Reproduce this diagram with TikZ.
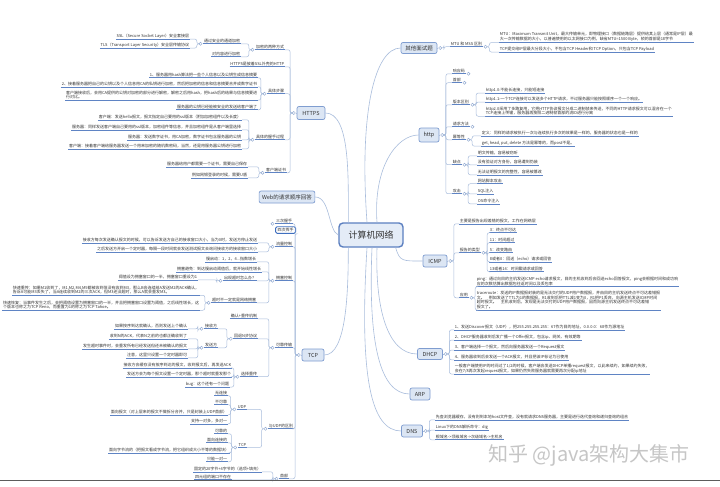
\documentclass[tikz,border=0pt]{standalone}
\usepackage{fontspec}
\setmainfont{Noto Sans CJK SC}
\usetikzlibrary{calc}
\definecolor{txt}{HTML}{333333}
\definecolor{ucol}{HTML}{5F84C4}
\definecolor{ccol}{HTML}{A9BDDC}
\definecolor{kcol}{HTML}{8FA8D0}
\definecolor{boxfill}{HTML}{DCE6F4}
\definecolor{boxdraw}{HTML}{7F9DD0}
\definecolor{cfill}{HTML}{E4ECF7}
\definecolor{cdraw}{HTML}{5B7FC0}
\definecolor{selcol}{HTML}{3F6FBF}
\definecolor{wm}{HTML}{C6C6C6}
\definecolor{barcol}{HTML}{5C5C5C}
\tikzset{
  ulinestyle/.style={draw=ucol, line width=0.55pt},
  leaf/.style={font=\fontsize{4}{4.9}\selectfont, text=txt, inner sep=0.7pt, align=left,
     append after command={(\tikzlastnode.south west) edge[ulinestyle] (\tikzlastnode.south east)}},
  lleaf/.style={leaf, anchor=east},
  rleaf/.style={leaf, anchor=west},
  mbox/.style={draw=boxdraw, fill=boxfill, rounded corners=2pt, line width=0.7pt,
     font=\fontsize{5.5}{6}\selectfont, text=txt, inner xsep=3pt, inner ysep=2pt},
  cbox/.style={draw=cdraw, fill=cfill, rounded corners=4pt, line width=1.4pt,
     font=\fontsize{9}{10}\selectfont, text=txt, minimum width=64pt, minimum height=24pt},
  selbox/.style={draw=selcol, fill=white, rounded corners=1.5pt, line width=0.8pt,
     font=\fontsize{4}{4.9}\selectfont, text=txt, inner xsep=2pt, inner ysep=1.5pt, anchor=east},
  link/.style={draw=ccol, line width=0.5pt, rounded corners=2pt},
  mainlink/.style={draw=ccol, line width=0.6pt},
  knob/.style={draw=kcol, fill=white, circle, inner sep=0pt, minimum size=3.2pt, line width=0.4pt},
}
\newcommand\LJ[1]{\node[knob] (#1j) at ([xshift=-2.6pt]#1.south west) {};}
\newcommand\RJ[1]{\node[knob] (#1j) at ([xshift=2.6pt]#1.south east) {};}
\newcommand\LBJ[1]{\node[knob] (#1j) at ([xshift=-2.8pt]#1.west) {};}
\newcommand\RBJ[1]{\node[knob] (#1j) at ([xshift=2.8pt]#1.east) {};}
\newcommand\LL[2]{\draw[link] (#1j.west) -- ++(-2,0) |- (#2.south east);}
\newcommand\RL[2]{\draw[link] (#1j.east) -- ++(2,0) |- (#2.south west);}
\begin{document}
\begin{tikzpicture}[x=1pt,y=-1pt]
\fill[white] (0,0) rectangle (720,487);
\useasboundingbox (0,0) rectangle (720,487);

% ---------- centre ----------
\node[cbox] (center) at (371,235) {计算机网络};

% ---------- main boxes ----------
\node[mbox, minimum width=28pt, minimum height=13pt] (https) at (311,113) {HTTPS};
\node[mbox, minimum width=55pt, minimum height=12pt] (web) at (287,197) {Web的请求顺序回答};
\node[mbox, minimum width=22pt, minimum height=12pt] (tcp) at (313,355) {TCP};
\node[mbox, minimum width=36pt, minimum height=11pt] (other) at (419,48) {其他面试题};
\node[mbox, minimum width=20pt, minimum height=14pt] (http) at (429,135) {http};
\node[mbox, minimum width=24pt, minimum height=12pt] (icmp) at (435,261) {ICMP};
\node[mbox, minimum width=25pt, minimum height=11pt] (dhcp) at (430,354) {DHCP};
\node[mbox, minimum width=20pt, minimum height=12pt] (arp) at (420,394) {ARP};
\node[mbox, minimum width=21pt, minimum height=12pt] (dns) at (412,431) {DNS};

% ---------- main links ----------
\draw[mainlink] (https.east) .. controls +(25,0) and +(0,-45) .. ([xshift=10pt]center.north west);
\draw[mainlink] (web.east) .. controls +(15,0) and +(-10,-4) .. (center.west);
\draw[mainlink] (tcp.east) .. controls +(22,0) and +(0,45) .. ([xshift=10pt]center.south west);
\draw[mainlink] ([xshift=-4pt]center.north) .. controls +(-8,-110) and +(-26,0) .. (other.west);
\draw[mainlink] ([xshift=6pt]center.north) .. controls +(-4,-55) and +(-22,0) .. (http.west);
\draw[mainlink] ([xshift=-8pt]center.south east) .. controls +(4,14) and +(-20,0) .. (icmp.west);
\draw[mainlink] ([xshift=6pt]center.south) .. controls +(-2,60) and +(-30,0) .. (dhcp.west);
\draw[mainlink] ([xshift=1pt]center.south) .. controls +(-4,95) and +(-30,0) .. (arp.west);
\draw[mainlink] ([xshift=-4pt]center.south) .. controls +(-8,130) and +(-30,0) .. (dns.west);

% ================= HTTPS =================
\LBJ{https}
\draw[link] (https.west) -- (httpsj.east);
\node[lleaf] (h1) at (285,47) {加密的两种方式};
\node[lleaf] (h2) at (285,64) {HTTPS是披着SSL外壳的HTTP};
\node[lleaf] (h3) at (285,91) {具体步骤};
\node[lleaf] (h4) at (285,137) {具体的握手过程};
\node[lleaf] (h5) at (287,170) {客户端证书};
\LL{https}{h1}\LL{https}{h2}\LL{https}{h3}\LL{https}{h4}\LL{https}{h5}
\LJ{h1}
\node[lleaf] (h11) at (241,41) {通过安全的通道加密};
\node[lleaf] (h12) at (241,54) {对内容进行加密};
\LL{h1}{h11}\LL{h1}{h12}
\LJ{h11}
\node[lleaf] (h111) at (190,36) {SSL（Secure Socket Layer）安全套接层};
\node[lleaf] (h112) at (190,45) {TLS（Transport Layer Security）安全层传输协议};
\LL{h11}{h111}\LL{h11}{h112}
\LJ{h3}
\node[lleaf] (h31) at (258,75) {1、服务器用hash算法把一些个人信息以及公钥生成信息摘要};
\node[lleaf] (h32) at (258,84) {2、接着服务器把自己的公钥以及个人信息用CA的私钥进行加密，然后把加密的信息和信息摘要合并成数字证书};
\node[lleaf] (h33) at (258,95) {客户端接收后，会用CA提供的公钥对加密的部分进行解密，解密之后用hash，把hash后的结果与信息摘要进\\行对比。};
\node[lleaf] (h34) at (258,107) {服务器的公钥已经能被安全的发送给客户端了};
\LL{h3}{h31}\LL{h3}{h32}\LL{h3}{h33}\LL{h3}{h34}
\LJ{h4}
\node[lleaf] (h41) at (242,117) {客户端：发送hello报文，报文指定自己要用的ssl版本（附加加密组件以及长度）};
\node[lleaf] (h42) at (242,127) {服务器：同样发送客户端自己要用的ssl版本，加密组件等信息，并且加密组件是从客户端里选择};
\node[lleaf] (h43) at (242,137) {服务器：发送数字证书，用CA加密，数字证书包含服务器的公钥};
\node[lleaf] (h44) at (242,146) {客户端：接着客户端给服务器发送一个用来加密的随机数密码，当然，还是用服务器公钥进行加密};
\LL{h4}{h41}\LL{h4}{h42}\LL{h4}{h43}\LL{h4}{h44}
\LJ{h5}
\node[lleaf] (h51) at (248,164) {服务器给用户都需要一个证书，需要自己保存};
\node[lleaf] (h52) at (248,175) {例如网银登录的时候，需要U盾};
\LL{h5}{h51}\LL{h5}{h52}

% ================= TCP =================
\LBJ{tcp}
\draw[link] (tcp.west) -- (tcpj.east);
\node[lleaf] (t1) at (293,221) {三次握手};
\node[selbox] (t2) at (296,230) {四次挥手};
\node[lleaf] (t3) at (293,244) {流量控制};
\node[lleaf] (t4) at (293,278) {拥塞控制};
\node[lleaf] (t5) at (293,345) {可靠传输};
\node[lleaf] (t6) at (294,426) {与UDP的区别};
\node[lleaf] (t7) at (289,476) {首部};
\LL{tcp}{t1}\LL{tcp}{t3}\LL{tcp}{t4}\LL{tcp}{t5}\LL{tcp}{t6}\LL{tcp}{t7}
\draw[link] (tcpj.west) -- ++(-2,0) |- (t2.south east);
\LJ{t1}
\LJ{t3}
\node[lleaf] (t31) at (258,240) {接收方每次发送确认报文的时候，可以告诉发送方自己的接收窗口大小，当为0时，发送方停止发送};
\node[lleaf] (t32) at (258,249) {之后发送方开启一个定时器，每隔一段时间就会发送测试报文去询问接收方的接收窗口大小};
\LL{t3}{t31}\LL{t3}{t32}
\LJ{t4}
\node[lleaf] (t41) at (257,259) {慢启动：1，2，4...指数增长};
\node[lleaf] (t42) at (262,269) {拥塞避免：到达慢启动阈值后，就开始线性增长};
\node[lleaf] (t43) at (257,278) {出现超时怎么办？};
\node[lleaf] (t44) at (257,300) {超时不一定就是网络拥塞};
\LL{t4}{t41}\LL{t4}{t42}\LL{t4}{t43}\LL{t4}{t44}
\LJ{t43}
\node[lleaf] (t431) at (198,277) {阈值设为拥塞窗口的一半，拥塞窗口重设为1};
\LL{t43}{t431}
\LJ{t44}
\node[lleaf] (t441) at (200,290) {快速重传：如果M1收到了，M1,M2,M4,M5都被收到但没有收到M3，那么B会连续给A发送M2的ACK确认，\\告诉A可能M3丢失了，当A连续收到M2的三次ACK，但M3还没超时，那么A就会重发M3。};
\node[lleaf] (t442) at (200,305) {快速恢复：当事件发生之后，会把阈值设置为拥塞窗口的一半，并且把拥塞窗口设置为阈值，之后线性增长，这\\个版本也称之为TCP Reno，而重置为1的称之为TCP Tahoe。};
\LL{t44}{t441}\LL{t44}{t442}
\LJ{t5}
\node[lleaf] (t51) at (258,316) {确认+重传机制};
\node[lleaf] (t52) at (258,336) {回退N步协议};
\node[lleaf] (t53) at (258,374) {选择重传};
\LL{t5}{t51}\LL{t5}{t52}\LL{t5}{t53}
\LJ{t52}
\node[lleaf] (t521) at (218,326) {接收方};
\node[lleaf] (t522) at (218,345) {发送方};
\LL{t52}{t521}\LL{t52}{t522}
\LJ{t521}
\node[lleaf] (t5211) at (188,326) {如果按序到达就确认，否则发送上个确认};
\LL{t521}{t5211}
\LJ{t522}
\node[lleaf] (t5221) at (188,336) {收到N的ACK，代表N之前的也都正确收到了};
\node[lleaf] (t5222) at (188,346) {发生超时事件时，会重发所有已经发送但还未被确认的报文};
\node[lleaf] (t5223) at (188,355) {注意，这里只设置一个定时器即可};
\LL{t522}{t5221}\LL{t522}{t5222}\LL{t522}{t5223}
\LJ{t53}
\node[lleaf] (t531) at (232,365) {接收方会缓存没有按序到达的报文，收到报文后，再发送ACK};
\node[lleaf] (t532) at (232,374) {发送方会为每个报文设置一个定时器，那个超时就重发那个};
\node[lleaf] (t533) at (230,384) {bug：这个还有一个问题};
\LL{t53}{t531}\LL{t53}{t532}\LL{t53}{t533}
\LJ{t6}
\node[lleaf] (t61) at (247,407) {UDP};
\node[lleaf] (t62) at (247,445) {TCP};
\LL{t6}{t61}\LL{t6}{t62}
\LJ{t61}
\node[lleaf] (t611) at (228,393) {无连接};
\node[lleaf] (t612) at (228,402) {不可靠};
\node[lleaf] (t613) at (228,412) {面向报文（对上层来的报文不做拆分合并，只是封装上UDP首部）};
\node[lleaf] (t614) at (228,421) {支持一对多，多对一};
\LL{t61}{t611}\LL{t61}{t612}\LL{t61}{t613}\LL{t61}{t614}
\LJ{t62}
\node[lleaf] (t621) at (228,431) {可靠的};
\node[lleaf] (t622) at (228,440) {面向连接的};
\node[lleaf] (t623) at (230,450) {面向字节流的（把报文看成字节流，把它组织成大小不等的数据块）};
\node[lleaf] (t624) at (228,459) {只能一对一};
\LL{t62}{t621}\LL{t62}{t622}\LL{t62}{t623}\LL{t62}{t624}
\LJ{t7}
\node[lleaf] (t71) at (262,469) {固定的20字节+4字节的（选项+填充）};
\node[lleaf] (t72) at (232,477) {四元组的端口不存在};
\LL{t7}{t71}\LL{t7}{t72}

% ================= other =================
\RBJ{other}
\draw[link] (other.east) -- (otherj.west);
\node[rleaf] (o1) at (450,44) {MTU 和 MSS 区别};
\RL{other}{o1}
\RJ{o1}
\node[rleaf] (o11) at (499,37) {MTU：Maximum Transmit Unit，最大传输单元，即物理接口（数据链路层）提供给其上层（通常是IP层）最\\大一次传输数据的大小，以普遍使用的以太网接口为例，缺省MTU=1500 Byte，帧的首部是18字节};
\node[rleaf] (o12) at (499,49) {TCP提交给IP层最大分段大小，不包含TCP Header和 TCP Option，只包含TCP Payload};
\RL{o1}{o11}\RL{o1}{o12}

% ================= http =================
\RBJ{http}
\draw[link] (http.east) -- (httpj.west);
\node[rleaf] (p1) at (452,71) {响应码};
\node[rleaf] (p2) at (452,80) {首部};
\node[rleaf] (p3) at (452,102) {版本区别};
\node[rleaf] (p4) at (452,124) {请求方法};
\node[rleaf] (p5) at (452,137) {幂等性};
\node[rleaf] (p6) at (452,162) {缺点};
\node[rleaf] (p7) at (452,191) {攻击};
\RL{http}{p1}\RL{http}{p2}\RL{http}{p3}\RL{http}{p4}\RL{http}{p5}\RL{http}{p6}\RL{http}{p7}
\RJ{p1}\RJ{p2}\RJ{p4}
\RJ{p3}
\node[rleaf] (p31) at (485,90) {http1.0:不能长连接，只能短连接};
\node[rleaf] (p32) at (485,99) {http1.1:一个TCP连接可以发送多个HTTP请求，不过服务器只能按照顺序一个一个响应。};
\node[rleaf] (p33) at (485,111) {http2.0采用了多路复用，它把HTTP协议报文分成二进制帧来传送，不同的HTTP请求报文可以混合在一个\\TCP连接上传输，服务器再按照二进制帧首部的流ID进行分离};
\RL{p3}{p31}\RL{p3}{p32}\RL{p3}{p33}
\RJ{p5}
\node[rleaf] (p51) at (481,133) {定义：同样的请求被执行一次与连续执行多次的效果是一样的，服务器的状态也是一样的};
\node[rleaf] (p52) at (481,143) {get, head, put, delete 方法是幂等的，而post不是。};
\RL{p5}{p51}\RL{p5}{p52}
\RJ{p6}
\node[rleaf] (p61) at (477,153) {明文传输，容易被窃听};
\node[rleaf] (p62) at (477,162) {没有验证对方身份，容易遭到伪装};
\node[rleaf] (p63) at (477,172) {无法证明报文的完整性，容易被篡改};
\RL{p6}{p61}\RL{p6}{p62}\RL{p6}{p63}
\RJ{p7}
\node[rleaf] (p71) at (477,181) {网站脚本攻击};
\node[rleaf] (p72) at (477,191) {SQL注入};
\node[rleaf] (p73) at (477,201) {OS命令注入};
\RL{p7}{p71}\RL{p7}{p72}\RL{p7}{p73}

% ================= ICMP =================
\RBJ{icmp}
\draw[link] (icmp.east) -- (icmpj.west);
\node[rleaf] (i1) at (459,221) {主要是报告出现差错的报文，工作在网络层};
\node[rleaf] (i2) at (459,250) {报告的类型};
\node[rleaf] (i3) at (459,295) {应用};
\RL{icmp}{i1}\RL{icmp}{i2}\RL{icmp}{i3}
\RJ{i2}
\node[rleaf] (i21) at (489,230) {3：终点不可达};
\node[rleaf] (i22) at (489,240) {11：时间超过};
\node[rleaf] (i23) at (489,250) {5：改变路由};
\node[rleaf] (i24) at (489,259) {8或者0：回送（echo）请求或回答};
\node[rleaf] (i25) at (489,269) {13或者14：时间戳请求或回答};
\RL{i2}{i21}\RL{i2}{i22}\RL{i2}{i23}\RL{i2}{i24}\RL{i2}{i25}
\RJ{i3}
\node[rleaf] (i31) at (476,281.5) {ping：通过向目的主机发送ICMP echo请求报文，目的主机收到后会回送echo回答报文，ping会根据时间和成功响\\应的次数估算出数据包往返时间以及丢包率};
\node[rleaf] (i32) at (476,300) {traceroute：发送的IP数据报封装的是无法交付的UDP用户数据报，并由目的主机发送终点不可达差错报\\文。\quad 例如发送了TTL为1的数据报，R1收到后把TTL减1变为0，R1把P1丢弃，向源主机发送ICMP时间\\超时报文。\quad 主机收到后，发现是无法交付的UDP用户数据报，因而向源主机发送终点不可达差错\\报文了。};
\RL{i3}{i31}\RL{i3}{i32}

% ================= DHCP =================
\RBJ{dhcp}
\draw[link] (dhcp.east) -- (dhcpj.west);
\node[rleaf] (d1) at (454,327) {1、发送Discover报文（UDP），把255.255.255.255：67作为目的地址，0.0.0.0：68作为源地址};
\node[rleaf] (d2) at (454,337) {2、DHCP服务器收到后发广播一个Offer报文，包含ip、网关、有效期等};
\node[rleaf] (d3) at (454,347) {3、客户端选择一个报文，然后向服务器发送一个Request报文};
\node[rleaf] (d4) at (454,357) {4、服务器收到后会发送一个ACK报文，并且把该IP标记为已使用};
\node[rleaf] (d5) at (454,368.5) {一般客户端使用IP的时间过了1/2的时候，客户端会发送DHCP单播request报文，以此来续约，如果续约失败，\\会在7/8再次发起request报文，如果仍然失败服务器就需要再次分配ip地址};
\RL{dhcp}{d1}\RL{dhcp}{d2}\RL{dhcp}{d3}\RL{dhcp}{d4}\RL{dhcp}{d5}

% ================= DNS =================
\RBJ{dns}
\draw[link] (dns.east) -- (dnsj.west);
\node[rleaf] (n1) at (435,417) {先查浏览器缓存，没有则到本地host文件查，没有就请求DNS服务器，主要是进行迭代查询和递归查询的组合};
\node[rleaf] (n2) at (435,427) {Linux下的DNS解析命令：dig};
\node[rleaf] (n3) at (435,437) {根域名->顶级域名->次级域名->主机名};
\RL{dns}{n1}\RL{dns}{n2}\RL{dns}{n3}

% ================= watermark & bar =================
\node[font=\fontsize{20}{20}\selectfont, text=wm, anchor=west, inner sep=0pt] (wmark) at (488,455) {知乎 @java架构大集市};
\draw[draw=barcol, line width=1.6pt] (0,480.5) -- (720,480.5);
\end{tikzpicture}
\end{document}
